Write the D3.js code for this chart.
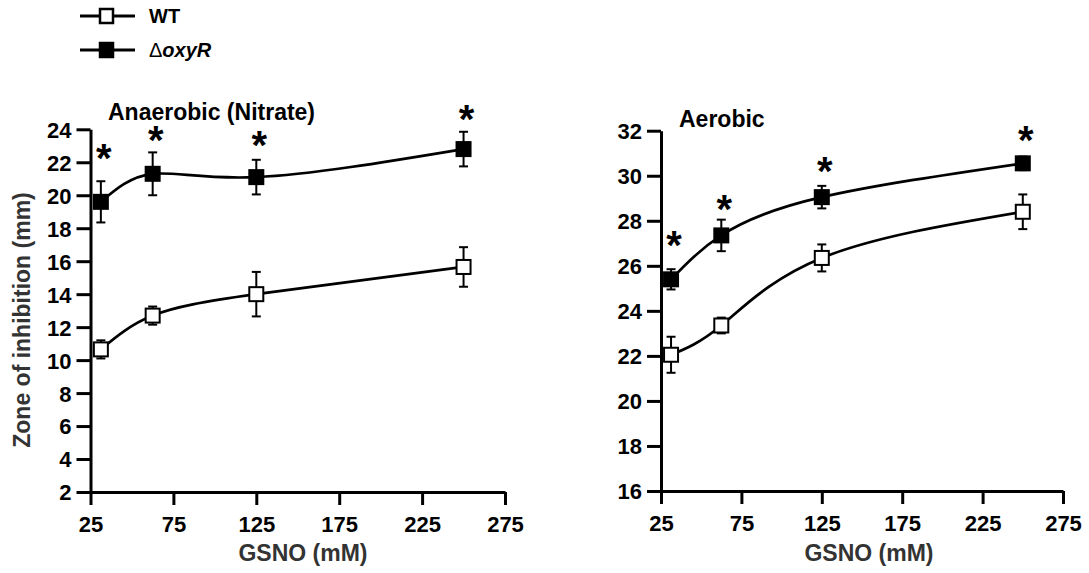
<!DOCTYPE html>
<html>
<head>
<meta charset="utf-8">
<script src="https://cdn.jsdelivr.net/npm/d3@7"></script>
<style>
  html, body { margin: 0; padding: 0; background: #fff; }
  svg { display: block; }
  text { font-family: "Liberation Sans", Arial, sans-serif; }
</style>
</head>
<body>
<svg id="chart" width="1089" height="573"></svg>
<script>
// GSNO concentrations (mM)
const gsno = [31.25, 62.5, 125, 250];

// Anaerobic (nitrate) zone of inhibition, mm (mean, SD)
const anaerobicWT      = [10.65, 12.7, 14.0, 15.65];
const anaerobicWTErr   = [0.55, 0.55, 1.35, 1.2];
const anaerobicOxyR    = [19.6, 21.3, 21.1, 22.8];
const anaerobicOxyRErr = [1.25, 1.3, 1.05, 1.05];
const anaerobicStarY   = [22.55, 23.65, 23.35, 24.95];

// Aerobic zone of inhibition, mm (mean, SD)
const aerobicWT      = [22.05, 23.35, 26.35, 28.4];
const aerobicWTErr   = [0.8, 0.35, 0.6, 0.77];
const aerobicOxyR    = [25.4, 27.35, 29.05, 30.55];
const aerobicOxyRErr = [0.45, 0.7, 0.5, 0.3];
const aerobicStarY   = [27.15, 28.75, 30.45, 31.8];

const xTicks = [25, 75, 125, 175, 225, 275];
const anaerobicYTicks = [2, 4, 6, 8, 10, 12, 14, 16, 18, 20, 22, 24];
const aerobicYTicks = [16, 18, 20, 22, 24, 26, 28, 30, 32];

const svg = d3.select("#chart");

function panel(cfg) {
  const x = d3.scaleLinear().domain([25, 275]).range([cfg.x0, cfg.x1]);
  const y = d3.scaleLinear().domain(cfg.yDomain).range([cfg.y0, cfg.y1]);
  const g = svg.append("g");

  // axes
  const ax = g.append("g")
    .attr("transform", `translate(0,${cfg.y0})`)
    .call(d3.axisBottom(x).tickValues(xTicks).tickSize(13).tickSizeOuter(0).tickPadding(11));
  const ay = g.append("g")
    .attr("transform", `translate(${cfg.x0},0)`)
    .call(d3.axisLeft(y).tickValues(cfg.yTicks).tickSize(14).tickSizeOuter(0).tickPadding(5));
  [ax, ay].forEach(a => {
    a.select(".domain").attr("stroke", "#000").attr("stroke-width", 3);
    a.selectAll(".tick line").attr("stroke", "#000").attr("stroke-width", 3);
    a.selectAll(".tick text")
      .attr("fill", "#000")
      .style("font-size", "22px")
      .style("font-weight", "bold")
      .style("font-family", "'Liberation Sans', Arial, sans-serif");
  });
  ay.selectAll(".tick text").attr("dy", "0.36em");

  // x-axis title
  g.append("text")
    .attr("x", cfg.xTitleX)
    .attr("y", 561)
    .attr("text-anchor", "middle")
    .attr("fill", "#333")
    .style("font-size", "23px")
    .style("font-weight", "bold")
    .text("GSNO (mM)");

  // panel title
  g.append("text")
    .attr("x", cfg.titleX)
    .attr("y", cfg.titleY)
    .attr("fill", "#000")
    .style("font-size", "23px")
    .style("font-weight", "bold")
    .text(cfg.title);

  const line = d3.line()
    .x((d, i) => x(gsno[i]))
    .y(d => y(d))
    .curve(d3.curveNatural);

  function series(vals, errs, filled) {
    const s = g.append("g");
    s.append("path")
      .datum(vals)
      .attr("d", line)
      .attr("fill", "none")
      .attr("stroke", "#000")
      .attr("stroke-width", 2.7);
    const eb = s.selectAll("g.eb").data(vals).join("g");
    eb.append("line")
      .attr("x1", (d, i) => x(gsno[i])).attr("x2", (d, i) => x(gsno[i]))
      .attr("y1", (d, i) => y(d + errs[i])).attr("y2", (d, i) => y(d - errs[i]))
      .attr("stroke", "#000").attr("stroke-width", 2);
    [1, -1].forEach(sg => {
      eb.append("line")
        .attr("x1", (d, i) => x(gsno[i]) - 4.5).attr("x2", (d, i) => x(gsno[i]) + 4.5)
        .attr("y1", (d, i) => y(d + sg * errs[i])).attr("y2", (d, i) => y(d + sg * errs[i]))
        .attr("stroke", "#000").attr("stroke-width", 2);
    });
    s.selectAll("rect").data(vals).join("rect")
      .attr("x", (d, i) => x(gsno[i]) - 7)
      .attr("y", d => y(d) - 7)
      .attr("width", 14).attr("height", 14)
      .attr("fill", filled ? "#000" : "#fff")
      .attr("stroke", "#000")
      .attr("stroke-width", 2);
  }
  series(cfg.wt, cfg.wtErr, false);
  series(cfg.oxy, cfg.oxyErr, true);

  // significance marks
  g.selectAll("text.star").data(cfg.starY).join("text")
    .attr("class", "star")
    .attr("x", (d, i) => x(gsno[i]) + 3)
    .attr("y", d => y(d) + 19)
    .attr("text-anchor", "middle")
    .attr("fill", "#000")
    .style("font-size", "40px")
    .style("font-weight", "bold")
    .text("*");
}

panel({
  x0: 90.5, x1: 505, y0: 492, y1: 129.3,
  yDomain: [2, 24], yTicks: anaerobicYTicks,
  wt: anaerobicWT, wtErr: anaerobicWTErr,
  oxy: anaerobicOxyR, oxyErr: anaerobicOxyRErr,
  starY: anaerobicStarY,
  title: "Anaerobic (Nitrate)", titleX: 108, titleY: 120,
  xTitleX: 303
});

panel({
  x0: 661, x1: 1063, y0: 491, y1: 130.7,
  yDomain: [16, 32], yTicks: aerobicYTicks,
  wt: aerobicWT, wtErr: aerobicWTErr,
  oxy: aerobicOxyR, oxyErr: aerobicOxyRErr,
  starY: aerobicStarY,
  title: "Aerobic", titleX: 679, titleY: 126.5,
  xTitleX: 869
});

// shared y-axis title
svg.append("text")
  .attr("transform", "translate(30,320) rotate(-90)")
  .attr("text-anchor", "middle")
  .attr("fill", "#333")
  .style("font-size", "23px")
  .style("font-weight", "bold")
  .text("Zone of inhibition (mm)");

// legend
const legend = svg.append("g");
const legendItems = [
  { y: 16, filled: false },
  { y: 50, filled: true }
];
legendItems.forEach(it => {
  legend.append("line")
    .attr("x1", 80).attr("x2", 135).attr("y1", it.y).attr("y2", it.y)
    .attr("stroke", "#000").attr("stroke-width", 3);
  legend.append("rect")
    .attr("x", 100).attr("y", it.y - 7).attr("width", 13).attr("height", 14)
    .attr("fill", it.filled ? "#000" : "#fff")
    .attr("stroke", "#000").attr("stroke-width", 2.5);
});
legend.append("text")
  .attr("x", 149).attr("y", 23)
  .style("font-size", "20px").style("font-weight", "bold")
  .text("WT");
const t2 = legend.append("text")
  .attr("x", 149).attr("y", 57)
  .style("font-size", "20px");
t2.append("tspan").text("\u0394");
t2.append("tspan").style("font-weight", "bold").style("font-style", "italic").text("oxyR");
</script>
</body>
</html>
